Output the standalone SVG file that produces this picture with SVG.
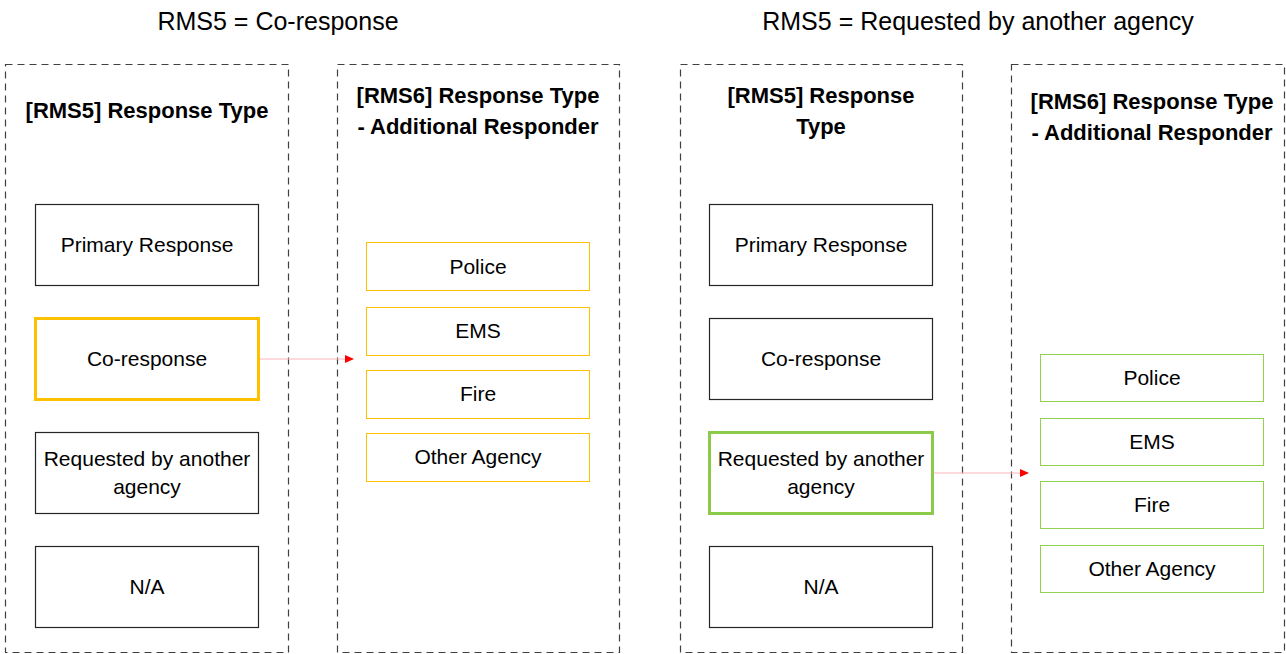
<svg xmlns="http://www.w3.org/2000/svg" width="1286" height="654" viewBox="0 0 1286 654">
<defs>
<style>
.t{font-family:"Liberation Sans",Arial,sans-serif;fill:#000}
.title{font-size:25px;text-anchor:middle}
.hdr{font-size:22px;font-weight:bold;text-anchor:middle}
.lbl{font-size:21px;text-anchor:middle}
.cont{fill:none;stroke:#404040;stroke-width:1.2;stroke-dasharray:7,5}
.plain{fill:#fff;stroke:#262626;stroke-width:1.2}
.selO{fill:#fff;stroke:#FFC000;stroke-width:3}
.selG{fill:#fff;stroke:#8CCB4A;stroke-width:3}
.optO{fill:#fff;stroke:#FFC000;stroke-width:1}
.optG{fill:#fff;stroke:#92D050;stroke-width:1}
.conn{stroke:#FFB3B8;stroke-width:1.2;fill:none}
</style>
<marker id="ah" markerWidth="10" markerHeight="10" refX="8" refY="5" orient="auto" markerUnits="userSpaceOnUse">
<path d="M0,1 L9,5 L0,9 Z" fill="#FF0000"/>
</marker>
</defs>
<rect width="1286" height="654" fill="#fff"/>

<g id="titles">
<text class="t title" x="278" y="30">RMS5 = Co-response</text>
<text class="t title" x="978" y="30">RMS5 = Requested by another agency</text>
</g>

<g id="containerA">
<rect class="cont" x="5.5" y="64.5" width="283" height="588"/>
<text class="t hdr" x="147" y="118">[RMS5] Response Type</text>
</g>
<g id="containerB">
<rect class="cont" x="337.5" y="64.5" width="282" height="588"/>
<text class="t hdr" x="478" y="103">[RMS6] Response Type</text>
<text class="t hdr" x="478" y="134">- Additional Responder</text>
</g>
<g id="containerC">
<rect class="cont" x="680.5" y="64.5" width="282" height="588"/>
<text class="t hdr" x="821" y="103">[RMS5] Response</text>
<text class="t hdr" x="821" y="134">Type</text>
</g>
<g id="containerD">
<rect class="cont" x="1011.5" y="64.5" width="273" height="588"/>
<text class="t hdr" x="1152" y="109">[RMS6] Response Type</text>
<text class="t hdr" x="1152" y="140">- Additional Responder</text>
</g>

<g id="a-primary"><rect class="plain" x="35.5" y="204.5" width="223" height="81"/><text class="t lbl" x="147" y="252">Primary Response</text></g>
<g id="a-coresponse"><rect class="selO" x="35.5" y="318.5" width="223" height="81"/><text class="t lbl" x="147" y="366">Co-response</text></g>
<g id="a-requested"><rect class="plain" x="35.5" y="432.5" width="223" height="81"/><text class="t lbl" x="147" y="466">Requested by another</text><text class="t lbl" x="147" y="494">agency</text></g>
<g id="a-na"><rect class="plain" x="35.5" y="546.5" width="223" height="81"/><text class="t lbl" x="147" y="594">N/A</text></g>

<g id="b-police"><rect class="optO" x="366.5" y="242.5" width="223" height="48"/><text class="t lbl" x="478" y="274">Police</text></g>
<g id="b-ems"><rect class="optO" x="366.5" y="307.5" width="223" height="48"/><text class="t lbl" x="478" y="338">EMS</text></g>
<g id="b-fire"><rect class="optO" x="366.5" y="370.5" width="223" height="48"/><text class="t lbl" x="478" y="401">Fire</text></g>
<g id="b-other"><rect class="optO" x="366.5" y="433.5" width="223" height="48"/><text class="t lbl" x="478" y="464">Other Agency</text></g>

<g id="c-primary"><rect class="plain" x="709.5" y="204.5" width="223" height="81"/><text class="t lbl" x="821" y="252">Primary Response</text></g>
<g id="c-coresponse"><rect class="plain" x="709.5" y="318.5" width="223" height="81"/><text class="t lbl" x="821" y="366">Co-response</text></g>
<g id="c-requested"><rect class="selG" x="709.5" y="432.5" width="223" height="81"/><text class="t lbl" x="821" y="466">Requested by another</text><text class="t lbl" x="821" y="494">agency</text></g>
<g id="c-na"><rect class="plain" x="709.5" y="546.5" width="223" height="81"/><text class="t lbl" x="821" y="594">N/A</text></g>

<g id="d-police"><rect class="optG" x="1040.5" y="354.5" width="223" height="47"/><text class="t lbl" x="1152" y="385">Police</text></g>
<g id="d-ems"><rect class="optG" x="1040.5" y="418.5" width="223" height="47"/><text class="t lbl" x="1152" y="449">EMS</text></g>
<g id="d-fire"><rect class="optG" x="1040.5" y="481.5" width="223" height="47"/><text class="t lbl" x="1152" y="512">Fire</text></g>
<g id="d-other"><rect class="optG" x="1040.5" y="545.5" width="223" height="47"/><text class="t lbl" x="1152" y="576">Other Agency</text></g>

<g id="connectors">
<line class="conn" x1="260" y1="359" x2="353" y2="359" marker-end="url(#ah)"/>
<line class="conn" x1="934" y1="473" x2="1028" y2="473" marker-end="url(#ah)"/>
</g>
</svg>
